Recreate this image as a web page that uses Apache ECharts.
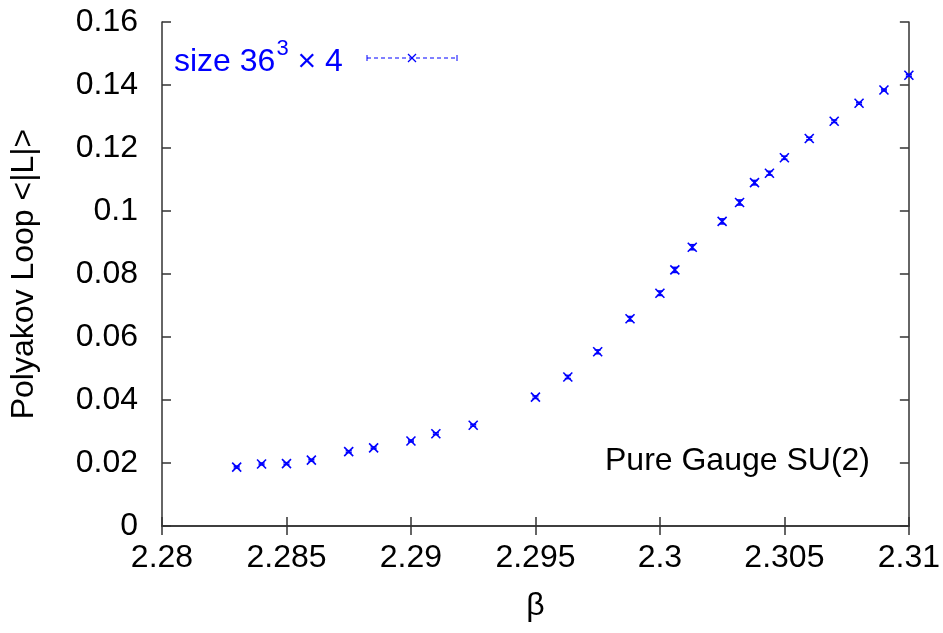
<!DOCTYPE html>
<html>
<head>
<meta charset="utf-8">
<script src="https://cdn.jsdelivr.net/npm/echarts@6/dist/echarts.min.js"></script>
<style>
  html, body { margin: 0; padding: 0; background: #fff; }
  #chart { width: 943px; height: 633px; }
</style>
</head>
<body>
<div id="chart"></div>
<script>
// beta values and Polyakov loop
var betas = [2.283, 2.284, 2.285, 2.286, 2.2875, 2.2885, 2.290, 2.291, 2.2925,
             2.295, 2.2963, 2.2975, 2.2988, 2.300, 2.3006, 2.3013, 2.3025, 2.3032,
             2.3038, 2.3044, 2.305, 2.306, 2.307, 2.308, 2.309, 2.310];
var loopVals = [0.0187, 0.0197, 0.0198, 0.0209, 0.0236, 0.0248, 0.0270, 0.0293, 0.0320,
                0.0409, 0.0473, 0.0553, 0.0658, 0.0739, 0.0813, 0.0885, 0.0967, 0.1027,
                0.1090, 0.1120, 0.1169, 0.1230, 0.1285, 0.1342, 0.1384, 0.1431];
var loopErrs = [0.0003, 0.0003, 0.0003, 0.0003, 0.0003, 0.0003, 0.0003, 0.0003, 0.0003,
                0.0004, 0.0005, 0.0006, 0.0007, 0.0007, 0.0008, 0.0008, 0.0008, 0.0008,
                0.0007, 0.0006, 0.0005, 0.0004, 0.0004, 0.0003, 0.0003, 0.0003];

var font = 'Liberation Sans, Arial, sans-serif';
var blue = '#0000ff';
var axisCol = '#333';

var points = betas.map(function (b, i) { return [b, loopVals[i], loopErrs[i]]; });

function tickFmt(v) {
  return String(+v.toFixed(3));
}

var chart = echarts.init(document.getElementById('chart'));
chart.setOption({
  animation: false,
  backgroundColor: '#fff',
  grid: { left: 162, right: 33, top: 22, bottom: 107 },
  xAxis: [{
    type: 'value', min: 2.28, max: 2.31, interval: 0.005,
    axisLine: { lineStyle: { color: axisCol, width: 1.5 } },
    axisTick: { inside: true, length: 9, lineStyle: { color: axisCol, width: 1.5 } },
    splitLine: { show: false },
    axisLabel: { color: '#000', fontSize: 32, fontFamily: font, margin: 16, formatter: tickFmt },
    name: 'β', nameLocation: 'middle', nameGap: 64,
    nameTextStyle: { color: '#000', fontSize: 32, fontFamily: font }
  }, {
    type: 'value', position: 'top', min: 2.28, max: 2.31, interval: 0.005,
    axisLine: { show: true, lineStyle: { color: axisCol, width: 1.5 } },
    axisTick: { inside: true, length: 9, lineStyle: { color: axisCol, width: 1.5 } },
    axisLabel: { show: false }, splitLine: { show: false }
  }],
  yAxis: [{
    type: 'value', min: 0, max: 0.16, interval: 0.02,
    axisLine: { show: true, lineStyle: { color: axisCol, width: 1.5 } },
    axisTick: { show: true, inside: true, length: 9, lineStyle: { color: axisCol, width: 1.5 } },
    splitLine: { show: false },
    axisLabel: { color: '#000', fontSize: 32, fontFamily: font, margin: 24, formatter: tickFmt },
    name: 'Polyakov Loop <|L|>', nameLocation: 'middle', nameGap: 122, nameRotate: 90,
    nameTextStyle: { color: '#000', fontSize: 32, fontFamily: font }
  }, {
    type: 'value', position: 'right', min: 0, max: 0.16, interval: 0.02,
    axisLine: { show: true, lineStyle: { color: axisCol, width: 1.5 } },
    axisTick: { show: true, inside: true, length: 9, lineStyle: { color: axisCol, width: 1.5 } },
    axisLabel: { show: false }, splitLine: { show: false }
  }],
  graphic: [
    {
      type: 'text', left: 174, top: 38,
      style: {
        text: '{a|size 36}{s|3}{a| × 4}',
        fill: blue,
        rich: {
          a: { fontSize: 32, fontFamily: font, fill: blue, verticalAlign: 'bottom', lineHeight: 40 },
          s: { fontSize: 22, fontFamily: font, fill: blue, verticalAlign: 'top', lineHeight: 40, padding: [0, 0, 16, 1] }
        }
      }
    },
    { type: 'line', shape: { x1: 367, y1: 58, x2: 457, y2: 58 },
      style: { stroke: blue, lineWidth: 1, lineDash: [4, 3] } },
    { type: 'line', shape: { x1: 367, y1: 55, x2: 367, y2: 61 }, style: { stroke: blue, lineWidth: 1 } },
    { type: 'line', shape: { x1: 457, y1: 55, x2: 457, y2: 61 }, style: { stroke: blue, lineWidth: 1 } },
    { type: 'line', shape: { x1: 408, y1: 54, x2: 416, y2: 62 }, style: { stroke: blue, lineWidth: 1.3 } },
    { type: 'line', shape: { x1: 408, y1: 62, x2: 416, y2: 54 }, style: { stroke: blue, lineWidth: 1.3 } },
    {
      type: 'text', right: 73, top: 445,
      style: { text: 'Pure Gauge SU(2)', fill: '#000', fontSize: 32, fontFamily: font }
    }
  ],
  series: [{
    type: 'custom',
    data: points,
    renderItem: function (params, api) {
      var p = api.coord([api.value(0), api.value(1)]);
      var hi = api.coord([api.value(0), api.value(1) + api.value(2)]);
      var lo = api.coord([api.value(0), api.value(1) - api.value(2)]);
      var h = 4.5, c = 3;
      var st = { stroke: blue, lineWidth: 1.6 };
      return {
        type: 'group',
        children: [
          { type: 'line', shape: { x1: p[0] - h, y1: p[1] - h, x2: p[0] + h, y2: p[1] + h }, style: st },
          { type: 'line', shape: { x1: p[0] - h, y1: p[1] + h, x2: p[0] + h, y2: p[1] - h }, style: st },
          { type: 'line', shape: { x1: p[0], y1: hi[1], x2: p[0], y2: lo[1] }, style: st },
          { type: 'line', shape: { x1: p[0] - c, y1: hi[1], x2: p[0] + c, y2: hi[1] }, style: st },
          { type: 'line', shape: { x1: p[0] - c, y1: lo[1], x2: p[0] + c, y2: lo[1] }, style: st }
        ]
      };
    }
  }]
});
</script>
</body>
</html>
